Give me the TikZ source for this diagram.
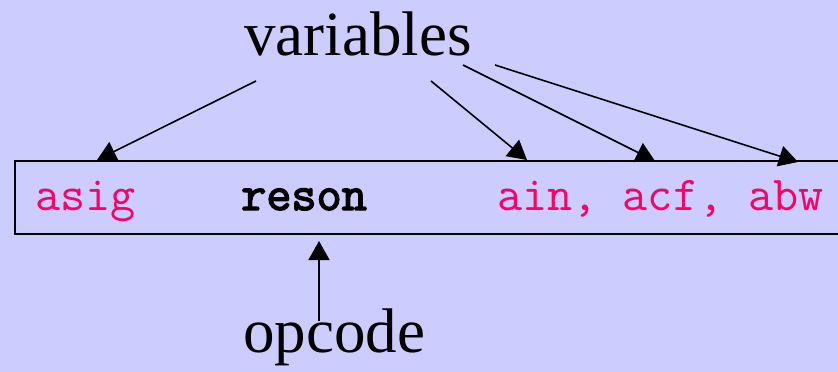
\documentclass[tikz,border=0pt]{standalone}
\usepackage{fontspec}
\setmainfont{Liberation Serif}
\newfontfamily\boldmono[FakeBold=3]{Latin Modern Mono}
\usetikzlibrary{arrows.meta}
\definecolor{bgc}{RGB}{204,204,255}
\definecolor{pinkc}{RGB}{255,0,102}
\tikzset{
  lbl/.style={inner sep=0pt, anchor=base, font=\fontsize{63}{70}\selectfont},
  code/.style={inner sep=0pt, anchor=base west, font=\ttfamily\fontsize{48.8}{54}\selectfont},
  arr/.style={line width=1.6pt, -{Triangle[length=19pt,width=21pt]}}
}
\begin{document}
\begin{tikzpicture}[x=1pt,y=-1pt]
\fill[bgc] (0,0) rectangle (838,372);
\clip (0,0) rectangle (838,372);
\useasboundingbox (0,0) rectangle (838,372);
\draw[line width=1.6pt] (15,161) rectangle (860,234);
\node[lbl] (vars) at (358,55) {variables};
\node[lbl] (opc) at (334,352) {opcode};
\node[code, text=pinkc] (asig) at (35,210) {asig};
\node[code, font=\boldmono\fontsize{48.8}{54}\selectfont] (reson) at (241,210) {reson};
\node[code, text=pinkc] (ains) at (497,210) {ain, acf, abw};
\coordinate (s1) at (256,81);
\coordinate (s2) at (431,81);
\coordinate (s3) at (463,65);
\coordinate (s4) at (495,65);
\coordinate (t1) at (97,160);
\coordinate (t2) at (527,160);
\coordinate (t3) at (655,161);
\coordinate (t4) at (798,162);
\coordinate (s5) at (319,321);
\coordinate (t5) at (319,241);
\draw[arr] (s1) -- (t1);
\draw[arr] (s2) -- (t2);
\draw[arr] (s3) -- (t3);
\draw[arr] (s4) -- (t4);
\draw[arr] (s5) -- (t5);
\end{tikzpicture}
\end{document}
